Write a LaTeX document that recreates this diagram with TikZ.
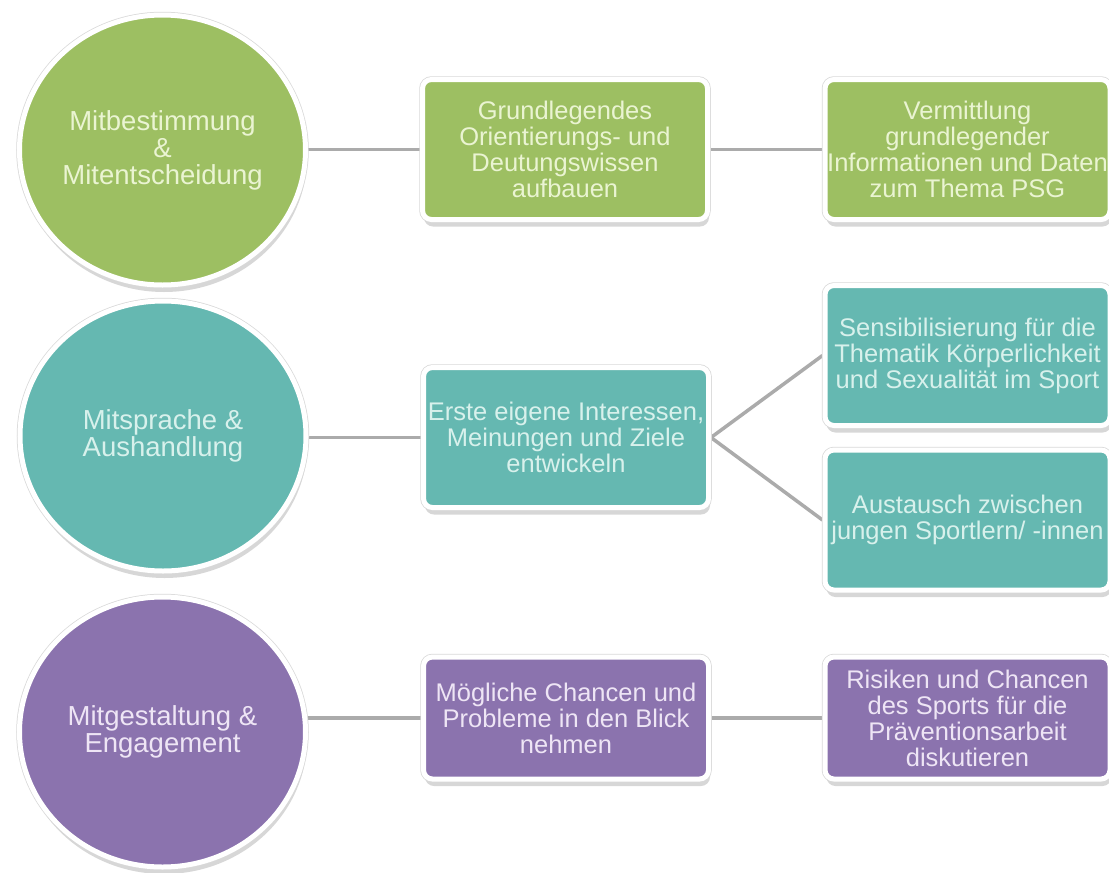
\documentclass[tikz,border=0pt]{standalone}
\usepackage{fontspec}
\setmainfont{Liberation Sans}
\newfontfamily\diafont{Liberation Sans}
\usetikzlibrary{shapes.geometric,shadows}
\definecolor{cgreen}{HTML}{9DBF62}
\definecolor{cteal}{HTML}{65B8B1}
\definecolor{cpurple}{HTML}{8B73AE}
\definecolor{tgreen}{HTML}{EAF4D2}
\definecolor{tteal}{HTML}{D8F1EC}
\definecolor{tpurple}{HTML}{EEE5F5}
\definecolor{conngray}{HTML}{ABABAB}
\pgfdeclarelayer{bottomlayer}
\pgfdeclarelayer{connlayer}
\pgfsetlayers{bottomlayer,connlayer,main}
\tikzset{
  conn/.style={draw=conngray, line width=3.5pt},
  framed/.style={draw=white, line width=5pt, inner sep=0pt, align=center,
    drop shadow={shadow xshift=1.5pt, shadow yshift=-7pt, opacity=0.22, fill=black!70},
    preaction={draw=black!15, line width=6.5pt}},
  boxbase/.style={framed, rectangle, rounded corners=9pt,
    minimum width=285pt, minimum height=140pt,
    font=\diafont\fontsize{25.5}{26}\selectfont},
  lowbox/.style={minimum height=122pt},
  circbase/.style={framed, ellipse, minimum width=286pt, minimum height=270pt,
    font=\diafont\fontsize{27.5}{27}\selectfont},
  greenfill/.style={fill=cgreen, text=tgreen},
  tealfill/.style={fill=cteal, text=tteal},
  purplefill/.style={fill=cpurple, text=tpurple}
}
\begin{document}
\begin{tikzpicture}[x=1pt, y=-1pt]
\begin{pgfonlayer}{bottomlayer}
  \fill[white] (0,0) rectangle (1109,873);
\end{pgfonlayer}
\useasboundingbox (0,0) rectangle (1109,873);

% row 1
\node[circbase, greenfill] (c1) at (162.5,150) {Mitbestimmung\\\&\\Mitentscheidung};
\node[boxbase, greenfill] (a1) at (565,149.5) {Grundlegendes\\Orientierungs- und\\Deutungswissen\\aufbauen};
\node[boxbase, greenfill] (a2) at (967.5,149.5) {Vermittlung\\grundlegender\\Informationen und Daten\\zum Thema PSG};

% row 2
\node[circbase, tealfill] (c2) at (163,436) {Mitsprache \&\\Aushandlung};
\node[boxbase, tealfill] (b1) at (566,437.5) {Erste eigene Interessen,\\Meinungen und Ziele\\entwickeln};
\node[boxbase, tealfill] (b2) at (967.5,355.5) {Sensibilisierung für die\\Thematik Körperlichkeit\\und Sexualität im Sport};
\node[boxbase, tealfill] (b3) at (967.5,520) {Austausch zwischen\\jungen Sportlern/ -innen};

% row 3
\node[circbase, purplefill] (c3) at (162.5,732) {Mitgestaltung \&\\Engagement};
\node[boxbase, lowbox, purplefill] (d1) at (566,718) {Mögliche Chancen und\\Probleme in den Blick\\nehmen};
\node[boxbase, lowbox, purplefill] (d2) at (967.5,718) {Risiken und Chancen\\des Sports für die\\Präventionsarbeit\\diskutieren};

\begin{pgfonlayer}{connlayer}
  \draw[conn] (c1.center |- a1.west) -- (a1.west);
  \draw[conn] (a1.east) -- (a2.west);
  \draw[conn] (c2.center |- b1.west) -- (b1.west);
  \draw[conn] (b1.east) -- (b2.west);
  \draw[conn] (b1.east) -- (b3.west);
  \draw[conn] (c3.center |- d1.west) -- (d1.west);
  \draw[conn] (d1.east) -- (d2.west);
\end{pgfonlayer}
\end{tikzpicture}
\end{document}
